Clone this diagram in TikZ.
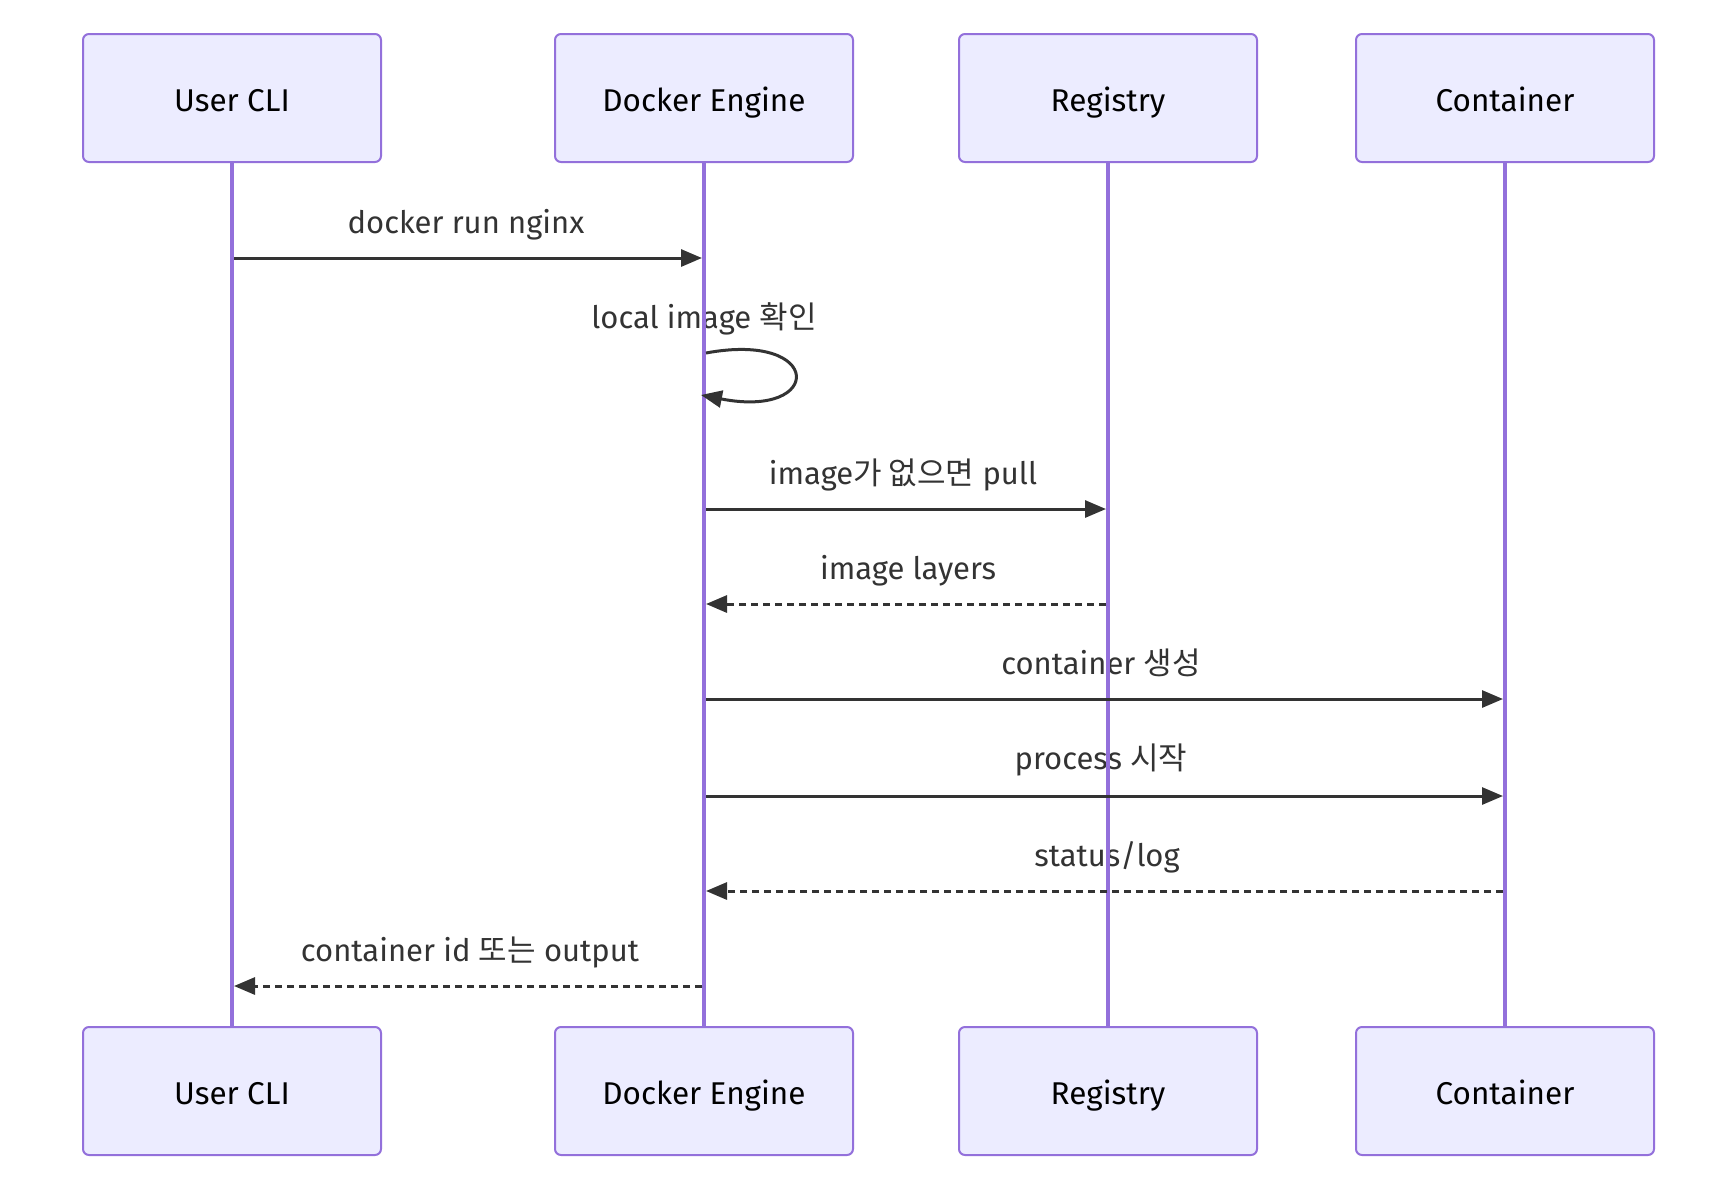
\documentclass[tikz,border=0pt]{standalone}
\usepackage{fontspec}
\setmainfont{Fira Sans}
\newfontfamily\kr{Noto Sans CJK KR}
\usetikzlibrary{arrows.meta}
\definecolor{actfill}{HTML}{ECECFF}
\definecolor{actline}{HTML}{9370DB}
\definecolor{msgcol}{HTML}{333333}
\tikzset{
  actor/.style={draw=actline, fill=actfill, line width=2pt, rounded corners=6pt,
    minimum width=298pt, minimum height=128pt, inner sep=0pt,
    text height=26pt, text depth=0pt,
    font=\fontsize{31.5}{36}\selectfont, text=black},
  lifeline/.style={draw=actline, line width=3.3pt},
  msg/.style={draw=msgcol, line width=3pt, -{Triangle[length=21pt,width=17pt]}},
  reply/.style={msg, dash pattern=on 7.5pt off 4.5pt},
  lbl/.style={font=\fontsize{31}{36}\selectfont, text=msgcol, inner sep=0pt, anchor=base}
}
\begin{document}
\begin{tikzpicture}[x=1pt,y=-1pt]
\useasboundingbox (0,0) rectangle (1716,1186);
% labels
\node[lbl] (l1) at (466,233) {docker run nginx};
\node[lbl] (l2) at (704,328) {local image {\kr 확인}};
\node[lbl] (l3) at (903,484) {image{\kr 가 없으면} pull};
\node[lbl] (l4) at (908,579) {image layers};
\node[lbl] (l5) at (1101,674) {container {\kr 생성}};
\node[lbl] (l6) at (1101,769) {process {\kr 시작}};
\node[lbl] (l7) at (1107,866) {status/log};
\node[lbl] (l8) at (470,961) {container id {\kr 또는} output};
% actors
\node[actor] (tu) at (232,98) {User CLI};
\node[actor] (td) at (704,98) {Docker Engine};
\node[actor] (tr) at (1108,98) {Registry};
\node[actor] (tc) at (1505,98) {Container};
\node[actor] (bu) at (232,1091) {User CLI};
\node[actor] (bd) at (704,1091) {Docker Engine};
\node[actor] (br) at (1108,1091) {Registry};
\node[actor] (bc) at (1505,1091) {Container};
% lifelines
\draw[lifeline] (tu.south) -- (bu.north);
\draw[lifeline] (td.south) -- (bd.north);
\draw[lifeline] (tr.south) -- (br.north);
\draw[lifeline] (tc.south) -- (bc.north);
% message coordinates
\coordinate (m1a) at (234,258); \coordinate (m1b) at (702,258);
\coordinate (m2a) at (706,353); \coordinate (m2b) at (701,395);
\coordinate (m3a) at (706,509); \coordinate (m3b) at (1106,509);
\coordinate (m4a) at (1106,604); \coordinate (m4b) at (706,604);
\coordinate (m5a) at (706,699); \coordinate (m5b) at (1503,699);
\coordinate (m6a) at (706,796); \coordinate (m6b) at (1503,796);
\coordinate (m7a) at (1503,891); \coordinate (m7b) at (706,891);
\coordinate (m8a) at (702,986); \coordinate (m8b) at (234,986);
% messages
\draw[msg] (m1a) -- (m1b);
\draw[msg] (m2a) .. controls (824,331) and (824,419) .. (m2b);
\draw[msg] (m3a) -- (m3b);
\draw[reply] (m4a) -- (m4b);
\draw[msg] (m5a) -- (m5b);
\draw[msg] (m6a) -- (m6b);
\draw[reply] (m7a) -- (m7b);
\draw[reply] (m8a) -- (m8b);
\end{tikzpicture}
\end{document}
